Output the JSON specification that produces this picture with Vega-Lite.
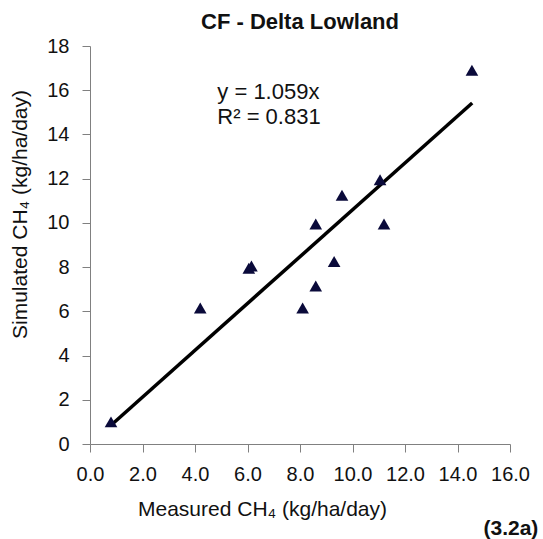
{
  "$schema": "https://vega.github.io/schema/vega-lite/v6.json",
  "width": 420,
  "height": 398,
  "autosize": "none",
  "padding": {"left": 90, "top": 46, "right": 33, "bottom": 95},
  "background": "white",
  "config": {
    "view": {"stroke": null},
    "font": "Liberation Sans",
    "axis": {"grid": false, "domainColor": "#808080", "tickColor": "#808080", "tickSize": 8, "labelFlush": false, "labelOverlap": false, "labelFont": "Liberation Sans", "titleFont": "Liberation Sans", "labelFontSize": 20, "titleFontSize": 21, "labelColor": "#111", "titleColor": "#111", "titleFontWeight": "normal"}
  },
  "title": {"text": "CF - Delta Lowland", "font": "Liberation Sans", "fontSize": 22, "fontWeight": "bold", "color": "#111", "offset": 2, "anchor": "middle"},
  "datasets": {
    "pts": [
      {"m": 0.8, "s": 1.0},
      {"m": 4.2, "s": 6.15},
      {"m": 6.05, "s": 7.95},
      {"m": 6.15, "s": 8.05},
      {"m": 8.1, "s": 6.15},
      {"m": 8.6, "s": 7.15},
      {"m": 8.6, "s": 9.95},
      {"m": 9.3, "s": 8.25},
      {"m": 9.6, "s": 11.25},
      {"m": 11.05, "s": 11.95},
      {"m": 11.2, "s": 9.95},
      {"m": 14.55, "s": 16.9}
    ],
    "fit": [
      {"m": 0.8, "s": 0.847},
      {"m": 14.56, "s": 15.419}
    ],
    "eq": [
      {"m": 4.85, "s": 15.92, "t": "y = 1.059x"},
      {"m": 4.85, "s": 14.8, "t": "R² = 0.831"}
    ],
    "tag": [
      {"m": 17.08, "s": -3.85, "t": "(3.2a)"}
    ]
  },
  "layer": [
    {
      "data": {"name": "fit"},
      "mark": {"type": "line", "color": "black", "strokeWidth": 3.5},
      "encoding": {
        "x": {"field": "m", "type": "quantitative", "scale": {"domain": [0, 16], "nice": false}, "axis": {"values": [0, 2, 4, 6, 8, 10, 12, 14, 16], "format": ".1f", "title": "Measured CH₄ (kg/ha/day)", "labelPadding": 12, "titlePadding": 14, "titleX": 172}},
        "y": {"field": "s", "type": "quantitative", "scale": {"domain": [0, 18], "nice": false}, "axis": {"values": [0, 2, 4, 6, 8, 10, 12, 14, 16, 18], "title": "Simulated CH₄ (kg/ha/day)", "labelPadding": 13, "titlePadding": 16, "titleY": 168}}
      }
    },
    {
      "data": {"name": "pts"},
      "mark": {"type": "point", "shape": "triangle-up", "filled": true, "color": "#0a0a3a", "size": 160, "opacity": 1},
      "encoding": {
        "x": {"field": "m", "type": "quantitative"},
        "y": {"field": "s", "type": "quantitative"}
      }
    },
    {
      "data": {"name": "eq"},
      "mark": {"type": "text", "fontSize": 22, "color": "#111", "baseline": "middle", "align": "left", "clip": false},
      "encoding": {
        "x": {"field": "m", "type": "quantitative"},
        "y": {"field": "s", "type": "quantitative"},
        "text": {"field": "t"}
      }
    },
    {
      "data": {"name": "tag"},
      "mark": {"type": "text", "fontSize": 21, "fontWeight": "bold", "color": "#111", "baseline": "middle", "align": "right", "clip": false},
      "encoding": {
        "x": {"field": "m", "type": "quantitative"},
        "y": {"field": "s", "type": "quantitative"},
        "text": {"field": "t"}
      }
    }
  ]
}
